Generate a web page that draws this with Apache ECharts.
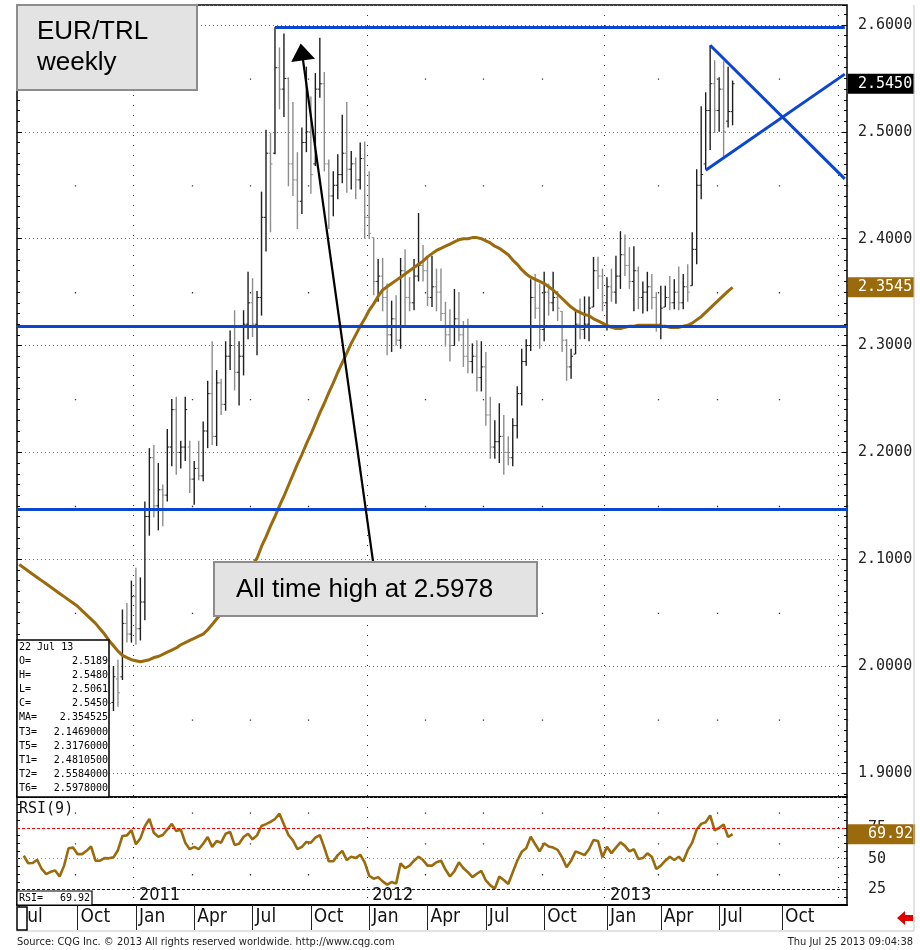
<!DOCTYPE html>
<html><head><meta charset="utf-8">
<script src="https://cdn.jsdelivr.net/npm/echarts@6/dist/echarts.min.js"></script>
<style>html,body{margin:0;padding:0;background:#fff}#c{width:920px;height:950px}</style>
</head><body><div id="c"></div>
<script>
// ---------------- DATA ----------------
const weekStart = '2010-07-05';          // first weekly category (Monday)
const weekCount = 185;                   // weeks shown on the axis (to Jan 2014)
const labelLastIndex = 180;              // no month labels beyond Oct 2013
const firstBarIndex = 20;                // first visible OHLC bar (22 Nov 2010)
const barHigh = [
 1.998,2.000,2.006,2.053,2.059,2.080,2.092,2.083,2.154,2.204,
 2.207,2.190,2.170,2.222,2.250,2.252,2.211,2.252,2.211,2.192,
 2.211,2.229,2.267,2.304,2.277,2.269,2.304,2.314,2.333,2.304,
 2.333,2.369,2.363,2.351,2.444,2.502,2.499,2.5978,2.579,2.592,
 2.551,2.528,2.481,2.504,2.561,2.533,2.555,2.588,2.556,2.474,
 2.463,2.479,2.516,2.528,2.482,2.476,2.490,2.491,2.463,2.401,
 2.381,2.382,2.358,2.342,2.347,2.382,2.390,2.364,2.381,2.424,
 2.394,2.383,2.384,2.372,2.372,2.341,2.334,2.353,2.350,2.323,
 2.325,2.302,2.305,2.304,2.294,2.252,2.230,2.246,2.235,2.215,
 2.232,2.262,2.297,2.306,2.362,2.367,2.358,2.369,2.358,2.369,
 2.351,2.332,2.306,2.297,2.333,2.344,2.346,2.346,2.383,2.383,
 2.372,2.364,2.372,2.384,2.407,2.404,2.392,2.393,2.374,2.360,
 2.369,2.367,2.350,2.356,2.356,2.365,2.362,2.374,2.367,2.376,
 2.406,2.465,2.524,2.537,2.581,2.567,2.551,2.566,2.561,2.548];
const barLow = [
 1.952,1.958,1.962,1.987,2.022,2.022,2.020,2.024,2.043,2.122,
 2.139,2.127,2.131,2.154,2.187,2.179,2.185,2.192,2.162,2.151,
 2.174,2.173,2.204,2.207,2.206,2.235,2.239,2.277,2.258,2.244,
 2.272,2.306,2.308,2.291,2.328,2.388,2.406,2.479,2.521,2.514,
 2.449,2.440,2.409,2.423,2.481,2.442,2.468,2.532,2.463,2.409,
 2.421,2.437,2.452,2.443,2.446,2.437,2.446,2.400,2.400,2.347,
 2.341,2.332,2.291,2.294,2.300,2.297,2.318,2.332,2.333,2.360,
 2.360,2.337,2.336,2.332,2.323,2.299,2.285,2.300,2.304,2.280,
 2.274,2.274,2.257,2.257,2.225,2.194,2.194,2.190,2.179,2.188,
 2.187,2.213,2.244,2.281,2.295,2.325,2.297,2.304,2.328,2.332,
 2.323,2.294,2.267,2.269,2.292,2.306,2.306,2.304,2.336,2.353,
 2.332,2.314,2.341,2.339,2.353,2.365,2.353,2.332,2.334,2.330,
 2.332,2.334,2.313,2.306,2.336,2.333,2.334,2.333,2.334,2.341,
 2.356,2.376,2.437,2.465,2.483,2.499,2.500,2.477,2.504,2.5061];
const barOpen = [
 1.990,1.966,1.988,1.990,2.040,2.030,2.065,2.035,2.060,2.140,
 2.195,2.150,2.165,2.160,2.205,2.240,2.200,2.205,2.205,2.175,
 2.185,2.178,2.220,2.255,2.215,2.265,2.245,2.290,2.300,2.275,
 2.290,2.320,2.340,2.320,2.345,2.420,2.480,2.480,2.560,2.540,
 2.550,2.470,2.455,2.435,2.490,2.500,2.470,2.540,2.545,2.470,
 2.440,2.450,2.460,2.480,2.465,2.470,2.455,2.475,2.420,2.401,
 2.360,2.365,2.345,2.310,2.325,2.305,2.370,2.345,2.340,2.365,
 2.375,2.370,2.345,2.355,2.350,2.330,2.310,2.300,2.325,2.310,
 2.290,2.285,2.290,2.270,2.280,2.235,2.205,2.210,2.215,2.200,
 2.195,2.225,2.255,2.285,2.300,2.345,2.335,2.315,2.350,2.340,
 2.345,2.332,2.305,2.280,2.292,2.320,2.315,2.320,2.336,2.370,
 2.365,2.340,2.355,2.350,2.365,2.385,2.375,2.360,2.370,2.345,
 2.350,2.355,2.345,2.320,2.336,2.345,2.340,2.350,2.340,2.355,
 2.356,2.390,2.450,2.470,2.520,2.545,2.520,2.540,2.510,2.5189];
const barClose = [
 1.965,1.990,1.975,2.040,2.030,2.065,2.035,2.060,2.140,2.195,
 2.150,2.165,2.160,2.205,2.240,2.200,2.205,2.240,2.175,2.185,
 2.178,2.220,2.255,2.215,2.265,2.245,2.290,2.300,2.275,2.290,
 2.320,2.340,2.320,2.345,2.420,2.480,2.470,2.560,2.540,2.550,
 2.470,2.455,2.435,2.490,2.500,2.460,2.540,2.545,2.470,2.440,
 2.450,2.460,2.480,2.465,2.470,2.455,2.475,2.420,2.405,2.360,
 2.365,2.345,2.310,2.325,2.305,2.370,2.345,2.340,2.365,2.375,
 2.370,2.345,2.355,2.350,2.330,2.310,2.300,2.325,2.310,2.290,
 2.285,2.290,2.270,2.280,2.235,2.205,2.210,2.215,2.200,2.195,
 2.225,2.255,2.285,2.300,2.345,2.335,2.315,2.350,2.340,2.345,
 2.335,2.305,2.280,2.290,2.320,2.315,2.320,2.335,2.370,2.365,
 2.340,2.355,2.350,2.365,2.385,2.375,2.360,2.370,2.345,2.350,
 2.355,2.345,2.320,2.335,2.345,2.340,2.350,2.340,2.355,2.350,
 2.390,2.450,2.460,2.520,2.545,2.520,2.540,2.500,2.519,2.545];
const maValues = [
 2.095,2.092,2.089,2.086,2.083,2.080,2.077,2.074,2.071,2.068,
 2.065,2.062,2.059,2.056,2.052,2.048,2.044,2.040,2.035,2.030,
 2.024,2.019,2.014,2.010,2.008,2.006,2.005,2.004,2.005,2.006,
 2.008,2.009,2.011,2.013,2.015,2.017,2.020,2.022,2.024,2.026,
 2.028,2.030,2.034,2.039,2.044,2.049,2.055,2.061,2.068,2.075,
 2.082,2.088,2.095,2.101,2.112,2.121,2.131,2.140,2.150,2.159,
 2.169,2.179,2.189,2.198,2.208,2.217,2.227,2.237,2.246,2.256,
 2.265,2.275,2.284,2.293,2.302,2.310,2.318,2.325,2.333,2.339,
 2.346,2.352,2.355,2.358,2.361,2.364,2.367,2.370,2.373,2.376,
 2.379,2.383,2.386,2.389,2.391,2.393,2.395,2.397,2.399,2.400,
 2.400,2.401,2.401,2.400,2.398,2.396,2.393,2.391,2.388,2.385,
 2.380,2.376,2.371,2.367,2.364,2.362,2.360,2.358,2.355,2.352,
 2.348,2.344,2.340,2.336,2.333,2.331,2.329,2.328,2.325,2.323,
 2.321,2.319,2.317,2.316,2.316,2.317,2.318,2.318,2.319,2.319,
 2.319,2.319,2.319,2.318,2.318,2.317,2.317,2.317,2.318,2.319,
 2.321,2.324,2.327,2.331,2.335,2.339,2.343,2.347,2.351,2.354525];
const rsiValues = [null,
 52.4,46.3,46.5,49.2,41.7,37.5,39.4,40.4,35.6,44.4,
 58.5,59.0,53.7,53.7,56.4,59.9,48.4,48.4,50.5,50.3,
 51.1,56.9,68.4,68.9,73.2,61.7,66.5,76.4,82.2,71.0,
 67.8,69.2,73.7,78.2,72.4,73.7,63.0,57.7,59.6,57.7,
 62.2,67.6,59.6,64.4,63.0,70.2,71.6,61.2,62.2,67.6,
 70.2,65.7,68.9,76.5,78.0,79.8,82.2,86.5,77.7,69.2,
 64.9,57.7,59.6,63.6,63.0,67.0,69.2,59.0,47.9,47.9,
 52.9,56.4,48.9,51.6,50.5,53.2,47.1,36.2,33.8,35.1,
 31.6,29.0,31.1,29.8,46.3,42.3,44.4,48.4,51.6,48.9,
 44.4,44.4,47.1,48.4,41.2,35.6,39.9,47.1,42.3,39.1,
 35.1,37.8,40.1,32.4,28.4,25.8,35.6,32.7,29.5,39.1,
 48.4,55.6,58.5,67.8,61.7,55.9,62.5,59.9,59.0,57.2,
 51.1,43.1,48.4,55.9,54.5,52.9,57.7,65.2,64.4,51.1,
 59.6,54.5,59.0,63.3,60.4,55.9,57.7,49.7,50.5,54.3,
 51.6,41.7,44.4,48.4,51.6,48.9,51.6,47.9,56.9,63.0,
 73.7,78.2,79.6,85.1,72.9,75.0,77.7,67.6,69.92];
const levelT3 = 2.1469, levelT5 = 2.3176, levelT6 = 2.5978;
const levelT1 = 2.48105, levelT2 = 2.5584;
const athStartIndex = 57;
const upperTrend = [[154, 2.581], [184, 2.456]];
const lowerTrend = [[153, 2.464], [184, 2.554]];
const arrowFrom = [79, 2.0937];
const arrowTo = [63, 2.5747];
const rsiLevels = [75, 50, 25];
const lastDateLabel = '22 Jul 13';
const monthNames = ['Jan','Feb','Mar','Apr','May','Jun','Jul','Aug','Sep','Oct','Nov','Dec'];

// ---------------- BUILD ----------------
const weeks = [];
(function(){ const p = weekStart.split('-').map(Number); const t0 = Date.UTC(p[0], p[1]-1, p[2]);
  for (let i = 0; i < weekCount; i++) weeks.push(new Date(t0 + i*7*86400000).toISOString().slice(0,10)); })();
const monthOf = i => +weeks[i].slice(5,7);
function isQuarterStart(i){ const m = monthOf(i); if ((m-1)%3 !== 0) return false; return i === 0 || monthOf(i-1) !== m; }
const isJan = i => i > 0 && isQuarterStart(i) && monthOf(i) === 1;
const isOtherQuarter = i => i > 0 && isQuarterStart(i) && monthOf(i) !== 1;
const isLabelled = i => i <= labelLastIndex && isQuarterStart(i);

const ohlc = barHigh.map((h, k) => [firstBarIndex + k, barOpen[k], h, barLow[k], barClose[k]]);
const lastK = barHigh.length - 1;
const lastClose = barClose[lastK];
const lastMA = maValues[maValues.length - 1];
const lastRSI = rsiValues[rsiValues.length - 1];

const BLUE = '#0b46d0', BROWN = '#9a6a0c';
const MONO = "'DejaVu Sans Mono','Liberation Mono',monospace";
const NARROW = "'Liberation Sans Narrow','DejaVu Sans Condensed','Arial Narrow',sans-serif";
const ARIAL = "'Liberation Sans',Arial,sans-serif";
const HIDDEN_LINE = {color:'rgba(0,0,0,0)', width:1, type:'solid'};

function renderOHLC(params, api){
  const x = api.value(0);
  const o = api.coord([x, api.value(1)]), h = api.coord([x, api.value(2)]);
  const l = api.coord([x, api.value(3)]), c = api.coord([x, api.value(4)]);
  const col = api.value(4) >= api.value(1) ? '#1e1e1e' : '#8c8c8c';
  return {type:'group', children:[
    {type:'line', shape:{x1:h[0], y1:h[1], x2:l[0], y2:l[1]}, style:{stroke:col, lineWidth:1.4}},
    {type:'line', shape:{x1:o[0]-2, y1:o[1], x2:o[0], y2:o[1]}, style:{stroke:col, lineWidth:1}},
    {type:'line', shape:{x1:c[0], y1:c[1], x2:c[0]+2, y2:c[1]}, style:{stroke:col, lineWidth:1}}
  ]};
}

const priceMin = 1.8775, priceMax = 2.6187;
function valueBox(bg, pad, text){ return {show:true, position:'end', distance:1, color:'#fff', backgroundColor:bg,
  fontFamily:MONO, fontSize:15, padding:pad, formatter:()=>text}; }

const dataBoxLines = [
  ['O=', barOpen[lastK].toFixed(4)], ['H=', barHigh[lastK].toFixed(4)], ['L=', barLow[lastK].toFixed(4)],
  ['C=', lastClose.toFixed(4)], ['MA=', lastMA.toFixed(6)], ['T3=', levelT3.toFixed(7)],
  ['T5=', levelT5.toFixed(7)], ['T1=', levelT1.toFixed(7)], ['T2=', levelT2.toFixed(7)], ['T6=', levelT6.toFixed(7)]];
const boxTexts = [{type:'text', z:102, style:{x:19, y:647, text:lastDateLabel, font:'10px '+MONO, fill:'#000', verticalAlign:'middle'}}];
dataBoxLines.forEach((r, k) => {
  const y = 661 + k*14.2;
  boxTexts.push({type:'text', z:102, style:{x:19, y:y, text:r[0], font:'10px '+MONO, fill:'#000', verticalAlign:'middle'}});
  boxTexts.push({type:'text', z:102, style:{x:108, y:y, text:r[1], font:'10px '+MONO, fill:'#000', verticalAlign:'middle', align:'right'}});
});

const chart = echarts.init(document.getElementById('c'), null, {renderer:'canvas'});
chart.setOption({
  animation:false,
  backgroundColor:'#fff',
  grid:[
    {left:17, top:5, width:830, height:792, show:true, borderColor:'#000', borderWidth:1.5, backgroundColor:'transparent'},
    {left:17, top:797, width:830, height:108, show:true, borderColor:'#000', borderWidth:1.5, backgroundColor:'transparent'}
  ],
  xAxis:[
    {type:'category', gridIndex:0, data:weeks, boundaryGap:true, axisLine:{show:false}, axisTick:{show:false}, axisLabel:{show:false},
     splitLine:{show:true, interval:(i)=>isJan(i), lineStyle:{color:'#333', width:1, type:[1,9]}}},
    {type:'category', gridIndex:0, data:weeks, position:'top', boundaryGap:true, axisLine:{show:false}, axisTick:{show:false}, axisLabel:{show:false},
     splitLine:{show:true, interval:(i)=>isOtherQuarter(i), lineStyle:{color:'#333', width:1.3, type:[1.3,105.56], dashOffset:33.46}}},
    {type:'category', gridIndex:1, data:weeks, position:'bottom', boundaryGap:true,
     axisLine:{show:true, lineStyle:{color:'#000', width:2}},
     axisTick:{show:true, interval:(i)=>isLabelled(i), alignWithLabel:true, length:25, lineStyle:{color:'#222', width:1}},
     axisLabel:{show:true, interval:(i)=>isLabelled(i), formatter:(v)=>monthNames[+v.slice(5,7)-1], align:'left', padding:[0,0,0,3],
       margin:3, fontFamily:NARROW, fontSize:19, color:'#111'},
     splitLine:{show:true, interval:(i)=>isJan(i), lineStyle:{color:'#333', width:1, type:[1,9]}}},
    {type:'category', gridIndex:1, data:weeks, position:'bottom', boundaryGap:true, axisLine:{show:false}, axisTick:{show:false},
     axisLabel:{show:true, inside:true, interval:(i)=>i <= labelLastIndex && isJan(i), formatter:(v)=>v.slice(0,4), align:'left', padding:[0,0,0,3],
       margin:1, fontFamily:NARROW, fontSize:18, color:'#111'},
     splitLine:{show:true, interval:(i)=>isOtherQuarter(i), lineStyle:{color:'#333', width:1.3, type:[1.3,29.56], dashOffset:15.46}}}
  ],
  yAxis:[
    {type:'value', gridIndex:0, position:'right', min:priceMin, max:priceMax, splitNumber:7,
     axisLine:{show:false}, axisTick:{show:true, inside:true, length:5, lineStyle:{color:'#000'}},
     minorTick:{show:true, splitNumber:10, length:3, lineStyle:{color:'#000'}},
     axisLabel:{formatter:(v)=>v.toFixed(4), showMinLabel:false, showMaxLabel:false, margin:11, align:'left',
       fontFamily:MONO, fontSize:15, color:'#222'},
     splitLine:{show:true, lineStyle:{color:'#777', width:1, type:[1,3]}}},
    {type:'value', gridIndex:0, position:'left', min:priceMin, max:priceMax, splitNumber:7,
     axisLine:{show:false}, axisTick:{show:true, inside:true, length:5, lineStyle:{color:'#000'}},
     minorTick:{show:true, splitNumber:10, length:3, lineStyle:{color:'#000'}},
     axisLabel:{show:false}, splitLine:{show:false}},
    {type:'value', gridIndex:1, position:'right', min:12.5, max:100, interval:6.25,
     axisLine:{show:false}, axisTick:{show:true, inside:true, length:3, lineStyle:{color:'#000'}},
     axisLabel:{formatter:(v)=> (v===25||v===50||v===75) ? String(v) : '', margin:21, align:'left',
       fontFamily:MONO, fontSize:15, color:'#222'},
     splitLine:{show:false}},
    {type:'value', gridIndex:1, position:'left', min:12.5, max:100, interval:6.25,
     axisLine:{show:false}, axisTick:{show:true, inside:true, length:3, lineStyle:{color:'#000'}},
     axisLabel:{show:false}, splitLine:{show:false}}
  ],
  series:[
    {type:'custom', name:'EUR/TRL', xAxisIndex:0, yAxisIndex:0, data:ohlc, encode:{x:0, y:[1,2,3,4]},
     renderItem:renderOHLC, z:2, clip:true, silent:true},
    {type:'line', name:'MA', xAxisIndex:0, yAxisIndex:0, data:maValues, showSymbol:false, symbol:'none', z:3, silent:true,
     lineStyle:{color:BROWN, width:3}, itemStyle:{color:BROWN},
     markLine:{silent:true, precision:6, symbol:['none','none'], animation:false, label:{show:false}, emphasis:{disabled:true},
      data:[
        {yAxis:levelT5, lineStyle:{color:BLUE, width:3, type:'solid'}},
        {yAxis:levelT3, lineStyle:{color:BLUE, width:3, type:'solid'}},
        [{coord:[athStartIndex, levelT6], lineStyle:{color:BLUE, width:3, type:'solid'}}, {coord:[weekCount-1, levelT6]}],
        [{coord:arrowFrom, symbol:'none', lineStyle:{color:'#000', width:2.2, type:'solid'}},
         {coord:arrowTo, symbol:'triangle', symbolSize:[24,17], itemStyle:{color:'#000'}}],
        {yAxis:lastClose, lineStyle:HIDDEN_LINE, label:valueBox('#000',[3,2,2,10], lastClose.toFixed(4))},
        {yAxis:lastMA, lineStyle:HIDDEN_LINE, label:valueBox(BROWN,[3,2,2,10], lastMA.toFixed(4))}
      ]}},
    {type:'line', name:'T2', xAxisIndex:0, yAxisIndex:0, data:upperTrend, showSymbol:false, symbol:'none', z:4, silent:true,
     lineStyle:{color:BLUE, width:3}},
    {type:'line', name:'T1', xAxisIndex:0, yAxisIndex:0, data:lowerTrend, showSymbol:false, symbol:'none', z:4, silent:true,
     lineStyle:{color:BLUE, width:3}},
    {type:'line', name:'RSI(9)', xAxisIndex:2, yAxisIndex:2, data:rsiValues, showSymbol:false, symbol:'none', z:3, silent:true,
     lineStyle:{color:BROWN, width:2.6}, itemStyle:{color:BROWN},
     markLine:{silent:true, precision:4, symbol:['none','none'], animation:false, label:{show:false}, emphasis:{disabled:true},
      data:[
        {yAxis:rsiLevels[0], lineStyle:{color:'#ff0000', width:1, type:[3,2]}},
        {yAxis:rsiLevels[1], lineStyle:{color:'#888', width:1, type:[1,3]}},
        {yAxis:rsiLevels[2], lineStyle:{color:'#0000d0', width:1, type:[3,2]}},
        {yAxis:lastRSI, lineStyle:HIDDEN_LINE, label:valueBox(BROWN,[3,2,2,20], lastRSI.toFixed(2))}
      ]}}
  ],
  graphic:[
    {type:'rect', z:100, shape:{x:17, y:5, width:180, height:85}, style:{fill:'#e3e3e3', stroke:'#8c8c8c', lineWidth:2}},
    {type:'text', z:101, style:{x:37, y:32, text:'EUR/TRL', font:'26px '+ARIAL, fill:'#000', verticalAlign:'middle'}},
    {type:'text', z:101, style:{x:37, y:63, text:'weekly', font:'26px '+ARIAL, fill:'#000', verticalAlign:'middle'}},
    {type:'rect', z:100, shape:{x:214, y:562, width:323, height:54}, style:{fill:'#e3e3e3', stroke:'#8c8c8c', lineWidth:2}},
    {type:'text', z:101, style:{x:236, y:590, text:'All time high at ' + levelT6.toFixed(4), font:'26px '+ARIAL, fill:'#000', verticalAlign:'middle'}},
    {type:'rect', z:100, shape:{x:17, y:640, width:92, height:157}, style:{fill:'#fff', stroke:'#000', lineWidth:1.5}},
    ...boxTexts,
    {type:'text', z:101, style:{x:19, y:809, text:'RSI(9)', font:'15px '+MONO, fill:'#111', verticalAlign:'middle'}},
    {type:'rect', z:100, shape:{x:17, y:891, width:75, height:14}, style:{fill:'#fff', stroke:'#000', lineWidth:1.2}},
    {type:'text', z:101, style:{x:19, y:898, text:'RSI=', font:'10px '+MONO, fill:'#000', verticalAlign:'middle'}},
    {type:'text', z:101, style:{x:90, y:898, text:lastRSI.toFixed(2), font:'10px '+MONO, fill:'#000', verticalAlign:'middle', align:'right'}},
    {type:'rect', z:100, shape:{x:17, y:907, width:10, height:23}, style:{fill:'#fff', stroke:'#000', lineWidth:1.5}},
    {type:'line', z:50, shape:{x1:17, y1:931, x2:914, y2:931}, style:{stroke:'#c8c8c8', lineWidth:1}},
    {type:'line', z:50, shape:{x1:914, y1:5, x2:914, y2:931}, style:{stroke:'#c8c8c8', lineWidth:1}},
    {type:'polygon', z:50, shape:{points:[[897,918],[905,911],[905,915],[913,915],[913,921],[905,921],[905,925]]}, style:{fill:'#e00000'}},
    {type:'text', z:50, style:{x:17, y:942, text:'Source: CQG Inc. \u00a9 2013 All rights reserved worldwide. http://www.cqg.com', font:'11px '+NARROW, fill:'#222', verticalAlign:'middle'}},
    {type:'text', z:50, style:{x:913, y:942, text:'Thu Jul 25 2013 09:04:38', font:'11px '+NARROW, fill:'#222', verticalAlign:'middle', align:'right'}}
  ]
});
</script>
</body></html>
